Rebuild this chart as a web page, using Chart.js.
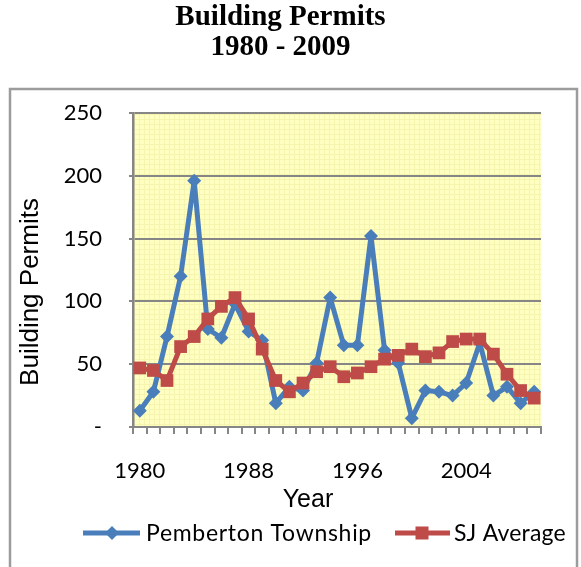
<!DOCTYPE html>
<html><head><meta charset="utf-8">
<script src="https://cdn.jsdelivr.net/npm/chart.js@4"></script>
<style>html,body{margin:0;padding:0;background:#fff}</style>
</head><body>
<canvas id="c" width="581" height="567"></canvas>
<script>
const years = ['1980','1981','1982','1983','1984','1985','1986','1987','1988','1989','1990','1991','1992','1993','1994','1995','1996','1997','1998','1999','2000','2001','2002','2003','2004','2005','2006','2007','2008','2009'];
const pemberton = [13,28,72,120,196,78,71,98,76,69,19,32,29,51,103,65,65,152,61,51,7,29,28,25,35,67,25,32,19,28];
const sjAverage = [47,45,37,64,72,86,96,103,86,62,37,28,35,44,48,40,43,48,54,57,62,56,59,68,70,70,58,42,29,23];
const yTickValues = [0,50,100,150,200,250];
const xLabelEvery = 8;
const seriesNames = ['Pemberton Township','SJ Average'];
const titleLines = ['Building Permits','1980 - 2009'];
const yTitle = 'Building Permits';
const xTitle = 'Year';

const BLUE = '#4A7EBB', RED = '#BE4B48', GRID = '#868686';
const SANS = '"Liberation Sans", Arial, sans-serif';
const CAL = 'Lato, "Liberation Sans", sans-serif';

const pc = document.createElement('canvas');
pc.width = 5; pc.height = 5;
const pctx = pc.getContext('2d');
pctx.fillStyle = '#FFFFC2'; pctx.fillRect(0,0,5,5);
pctx.fillStyle = '#F5F5B0'; pctx.fillRect(0,4,5,1); pctx.fillRect(4,0,1,5);

const decor = {
  id: 'decor',
  beforeDraw(chart) {
    const {ctx, chartArea: a} = chart;
    ctx.save();
    ctx.fillStyle = '#fff'; ctx.fillRect(0,0,chart.width,chart.height);
    ctx.fillStyle = ctx.createPattern(pc, 'repeat');
    ctx.fillRect(a.left, a.top, a.right - a.left, a.bottom - a.top);
    ctx.strokeStyle = '#9C9C9C'; ctx.lineWidth = 2.5;
    ctx.strokeRect(10, 89, 567, 600);
    ctx.restore();
  },
  afterDraw(chart) {
    const ctx = chart.ctx;
    ctx.save();
    ctx.fillStyle = '#000';
    ctx.translate(31, 292); ctx.rotate(-Math.PI/2);
    ctx.font = '26px ' + SANS; ctx.textAlign = 'center'; ctx.textBaseline = 'middle';
    ctx.fillText(yTitle, 0, 0);
    ctx.setTransform(1,0,0,1,0,0);
    ctx.font = '25px ' + SANS;
    ctx.fillText(xTitle, 308, 500);
    const ly = 533;
    ctx.lineWidth = 5;
    ctx.strokeStyle = BLUE; ctx.fillStyle = BLUE;
    ctx.beginPath(); ctx.moveTo(83, ly); ctx.lineTo(140, ly); ctx.stroke();
    ctx.beginPath(); ctx.moveTo(112, ly-7); ctx.lineTo(119, ly); ctx.lineTo(112, ly+7); ctx.lineTo(105, ly); ctx.closePath(); ctx.fill();
    ctx.strokeStyle = RED; ctx.fillStyle = RED;
    ctx.beginPath(); ctx.moveTo(395, ly); ctx.lineTo(450, ly); ctx.stroke();
    ctx.fillRect(415.5, ly-6.5, 13, 13);
    ctx.fillStyle = '#000'; ctx.textAlign = 'left';
    ctx.font = '23px ' + CAL;
    const hasLS = 'letterSpacing' in ctx;
    if (hasLS) ctx.letterSpacing = '0.7px';
    ctx.fillText(seriesNames[0], 146, ly+1);
    if (hasLS) ctx.letterSpacing = '0.2px';
    ctx.fillText(seriesNames[1], 454, ly+1);
    ctx.restore();
  }
};

new Chart(document.getElementById('c'), {
  type: 'line',
  data: {
    labels: years,
    datasets: [
      { label: seriesNames[0], data: pemberton, borderColor: BLUE, backgroundColor: BLUE,
        borderWidth: 5, borderJoinStyle: 'round', pointStyle: 'rectRot', pointRadius: 7, pointBorderWidth: 0,
        tension: 0, order: 1 },
      { label: seriesNames[1], data: sjAverage, borderColor: RED, backgroundColor: RED,
        borderWidth: 5, borderJoinStyle: 'round', pointStyle: 'rect', pointRadius: 9, pointBorderWidth: 0,
        tension: 0, order: 0 }
    ]
  },
  options: {
    responsive: false,
    animation: false,
    devicePixelRatio: 1,
    layout: { padding: { left: 10, right: 30, top: 0, bottom: 0 } },
    plugins: {
      legend: { display: false },
      tooltip: { enabled: false },
      title: {
        display: true, text: titleLines, color: '#000',
        font: { family: '"Liberation Serif", "Times New Roman", serif', size: 29, weight: 'bold', lineHeight: 1.05 },
        padding: { top: 2, bottom: 50 }
      }
    },
    scales: {
      x: {
        type: 'category', offset: true,
        grid: { offset: true, drawOnChartArea: false, drawTicks: true, tickLength: 7, color: GRID, lineWidth: 2 },
        border: { display: true, color: GRID, width: 2 },
        ticks: {
          autoSkip: false, maxRotation: 0, minRotation: 0, padding: 24, color: '#000',
          font: { family: CAL, size: 22 },
          callback: function(v, i) { return i % xLabelEvery === 0 ? this.getLabelForValue(v) : ''; }
        },
        afterFit: s => { s.height = 140; }
      },
      y: {
        min: 0, max: 250,
        afterBuildTicks: s => { s.ticks = yTickValues.map(v => ({ value: v })); },
        grid: { color: GRID, lineWidth: 2, drawTicks: true, tickLength: 4 },
        border: { display: true, color: GRID, width: 2.5 },
        ticks: { padding: 27, color: '#000', font: { family: CAL, size: 22 },
          callback: v => v === 0 ? '-' : String(v) },
        afterFit: s => { s.width = 123; }
      },
      y2: {
        position: 'right', display: true,
        grid: { display: false }, border: { display: false },
        ticks: { display: false },
        afterFit: s => { s.width = 10; }
      }
    }
  },
  plugins: [decor]
});
</script>
</body></html>
